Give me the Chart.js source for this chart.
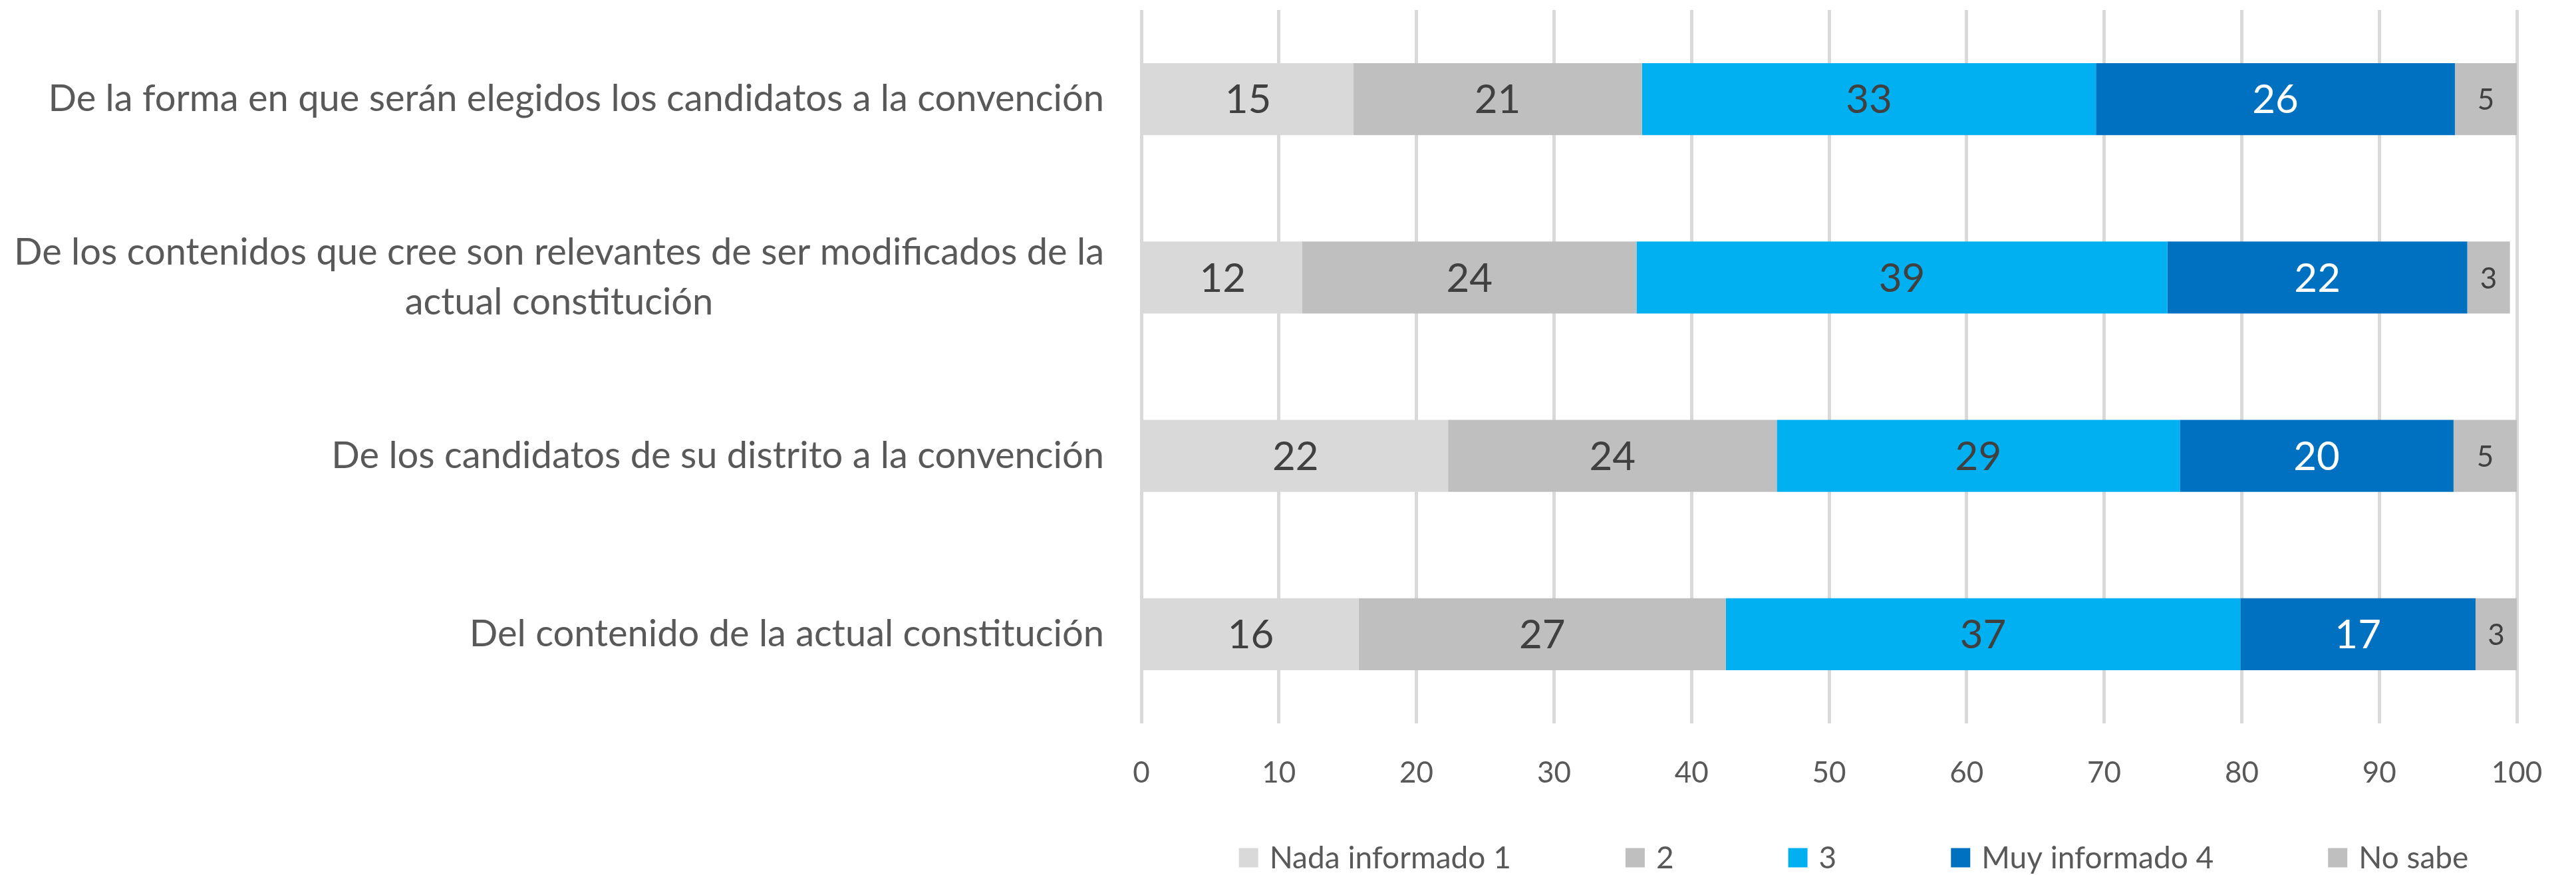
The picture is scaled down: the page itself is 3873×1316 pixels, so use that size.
<!DOCTYPE html>
<html><head><meta charset="utf-8">
<script src="https://cdn.jsdelivr.net/npm/chart.js@4.4.0/dist/chart.umd.min.js"></script>
<style>html,body{margin:0;padding:0;background:#fff;overflow:hidden}</style>
</head><body>
<canvas id="c" width="3873" height="1316"></canvas>
<script>
// ---- data ----
const categories = [
  ["De la forma en que serán elegidos los candidatos a la convención"],
  ["De los contenidos que cree son relevantes de ser modificados de la", "actual constitución"],
  ["De los candidatos de su distrito a la convención"],
  ["Del contenido de la actual constitución"]
];
const seriesNames = ["Nada informado 1", "2", "3", "Muy informado 4", "No sabe"];
const nadaInformado = [15.4, 11.7, 22.3, 15.8];
const nivel2 = [21.0, 24.3, 23.9, 26.7];
const nivel3 = [33.0, 38.6, 29.3, 37.4];
const muyInformado = [26.1, 21.8, 19.9, 17.1];
const noSabe = [4.5, 3.1, 4.6, 3.0];
const xMin = 0, xMax = 100, xStep = 10;

// ---- styles ----
const FONT = 'Lato';
const seriesColors = ['#D9D9D9', '#BFBFBF', '#00B0F0', '#0070C0', '#BFBFBF'];
const labelColors = ['#404040', '#404040', '#404040', '#FFFFFF', '#404040'];
const labelSizes = [60, 60, 60, 60, 44];
const seriesValues = [nadaInformado, nivel2, nivel3, muyInformado, noSabe];

const categoryLabelsPlugin = {
  id: 'categoryLabels',
  afterDraw(chart) {
    const ctx = chart.ctx, y = chart.scales.y;
    const right = chart.chartArea.left - 56;
    const lh = 75;
    ctx.save();
    ctx.font = '56px ' + FONT;
    ctx.fillStyle = '#595959';
    ctx.textBaseline = 'middle';
    ctx.textAlign = 'center';
    categories.forEach((lines, i) => {
      const cy = y.getPixelForValue(i);
      const widest = Math.max(...lines.map(l => ctx.measureText(l).width));
      const cx = right - widest / 2;
      lines.forEach((l, j) => {
        ctx.fillText(l, cx, cy + (j - (lines.length - 1) / 2) * lh);
      });
    });
    ctx.restore();
  }
};

const dataLabelsPlugin = {
  id: 'dataLabels',
  afterDatasetsDraw(chart) {
    const ctx = chart.ctx;
    ctx.save();
    ctx.textAlign = 'center';
    ctx.textBaseline = 'middle';
    chart.data.datasets.forEach((ds, di) => {
      const meta = chart.getDatasetMeta(di);
      ctx.font = labelSizes[di] + 'px ' + FONT;
      ctx.fillStyle = labelColors[di];
      meta.data.forEach((bar, i) => {
        const v = ds.data[i];
        const cx = (bar.x + bar.base) / 2;
        ctx.fillText(String(Math.round(v)), cx, bar.y + 2);
      });
    });
    ctx.restore();
  }
};

const legendPlugin = {
  id: 'customLegend',
  afterDraw(chart) {
    const ctx = chart.ctx;
    const box = 29, gapText = 17, gapItem = 172, cy = 1290;
    ctx.save();
    ctx.font = '46px ' + FONT;
    ctx.textBaseline = 'middle';
    ctx.textAlign = 'left';
    const items = chart.data.datasets.map(ds => ({ text: ds.label, color: ds.backgroundColor, w: ctx.measureText(ds.label).width }));
    const total = items.reduce((s, it) => s + box + gapText + it.w, 0) + gapItem * (items.length - 1);
    const ca = chart.chartArea;
    let x = (ca.left + ca.right) / 2 + 37 - total / 2;
    items.forEach(it => {
      ctx.fillStyle = it.color;
      ctx.fillRect(x, cy - box / 2, box, box);
      ctx.fillStyle = '#595959';
      ctx.fillText(it.text, x + box + gapText, cy + 1);
      x += box + gapText + it.w + gapItem;
    });
    ctx.restore();
  }
};

function build() {
  Chart.defaults.font.family = FONT;
  new Chart(document.getElementById('c'), {
    type: 'bar',
    data: {
      labels: categories.map(c => c.join(' ')),
      datasets: seriesNames.map((name, i) => ({
        label: name,
        data: seriesValues[i],
        backgroundColor: seriesColors[i],
        borderWidth: 0,
        categoryPercentage: 1,
        barPercentage: 0.403
      }))
    },
    options: {
      indexAxis: 'y',
      responsive: false,
      animation: false,
      layout: { padding: { top: 15, right: 89, bottom: 131, left: 0 } },
      plugins: { legend: { display: false }, tooltip: { enabled: false } },
      scales: {
        x: {
          stacked: true, min: xMin, max: xMax,
          ticks: { stepSize: xStep, color: '#595959', font: { size: 44, family: FONT }, padding: 48, maxRotation: 0 },
          grid: { color: '#D9D9D9', lineWidth: 5, drawTicks: false },
          border: { display: false },
          afterFit(scale) { scale.height = 97; }
        },
        y: {
          stacked: true,
          ticks: { display: false },
          grid: { display: false },
          border: { display: false },
          afterFit(scale) { scale.width = 1716; }
        }
      }
    },
    plugins: [dataLabelsPlugin, categoryLabelsPlugin, legendPlugin, {
      id: 'bg', beforeDraw(c) { const x = c.ctx; x.save(); x.fillStyle = '#fff'; x.fillRect(0, 0, c.width, c.height); x.restore(); }
    }]
  });
}
if (document.fonts && document.fonts.load) {
  Promise.all([document.fonts.load('44px Lato'), document.fonts.load('60px Lato')]).then(build, build);
} else build();
</script>
</body></html>
